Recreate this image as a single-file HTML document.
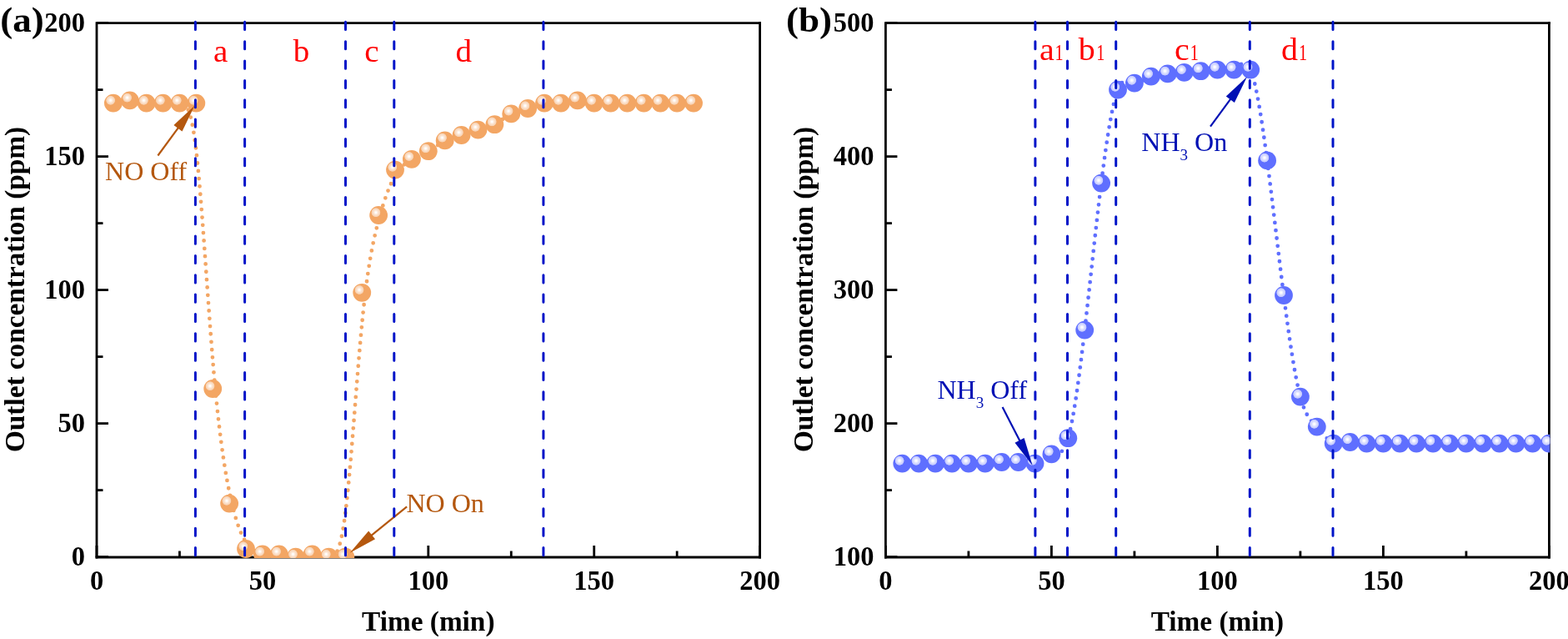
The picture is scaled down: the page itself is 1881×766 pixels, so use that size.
<!DOCTYPE html><html><head><meta charset="utf-8"><title>Outlet concentration</title><style>
html,body{margin:0;padding:0;background:#fff;}svg{display:block;}
text{font-family:"Liberation Serif","Times New Roman",serif;}
.t{font-weight:bold;font-size:32px;}
</style></head><body>
<svg width="1881" height="766" viewBox="0 0 1881 766">
<defs>
<radialGradient id="go" cx="0" cy="0" r="5.7" gradientUnits="userSpaceOnUse"><stop offset="0" stop-color="#fff"/><stop offset="0.12" stop-color="#fff"/><stop offset="0.3" stop-color="#fdf0e5"/><stop offset="0.55" stop-color="#fbe1cc"/><stop offset="0.85" stop-color="#f8d3b4"/><stop offset="0.95" stop-color="#f5be90"/><stop offset="1" stop-color="#F3A664"/></radialGradient>
<radialGradient id="gb" cx="0" cy="0" r="5.7" gradientUnits="userSpaceOnUse"><stop offset="0" stop-color="#fff"/><stop offset="0.12" stop-color="#fff"/><stop offset="0.3" stop-color="#eef0ff"/><stop offset="0.55" stop-color="#d8dcff"/><stop offset="0.85" stop-color="#c6cbff"/><stop offset="0.95" stop-color="#9ea7ff"/><stop offset="1" stop-color="#5F6FFF"/></radialGradient>
<clipPath id="ca"><rect x="114.6" y="26.2" width="798.4" height="642.8"/></clipPath>
<clipPath id="cb"><rect x="1061" y="26.2" width="798.3" height="642.8"/></clipPath>
</defs>
<rect width="1881" height="766" fill="#fff"/>
<g>
<path d="M116.00 669.50 V27.60 H913.00" fill="none" stroke="#000" stroke-width="2.8" stroke-linejoin="miter"/><path d="M911.60 26.20 V669.50" fill="none" stroke="#000" stroke-width="2.8"/><line x1="114.60" y1="668.00" x2="913.00" y2="668.00" stroke="#000" stroke-width="3"/><line x1="116.00" y1="668.00" x2="116.00" y2="654.00" stroke="#000" stroke-width="2.8"/><line x1="314.90" y1="668.00" x2="314.90" y2="654.00" stroke="#000" stroke-width="2.8"/><line x1="513.80" y1="668.00" x2="513.80" y2="654.00" stroke="#000" stroke-width="2.8"/><line x1="712.70" y1="668.00" x2="712.70" y2="654.00" stroke="#000" stroke-width="2.8"/><line x1="911.60" y1="668.00" x2="911.60" y2="654.00" stroke="#000" stroke-width="2.8"/><line x1="215.45" y1="668.00" x2="215.45" y2="660.50" stroke="#000" stroke-width="2.8"/><line x1="414.35" y1="668.00" x2="414.35" y2="660.50" stroke="#000" stroke-width="2.8"/><line x1="613.25" y1="668.00" x2="613.25" y2="660.50" stroke="#000" stroke-width="2.8"/><line x1="812.15" y1="668.00" x2="812.15" y2="660.50" stroke="#000" stroke-width="2.8"/><line x1="116.00" y1="667.60" x2="130.00" y2="667.60" stroke="#000" stroke-width="2.8"/><line x1="116.00" y1="507.60" x2="130.00" y2="507.60" stroke="#000" stroke-width="2.8"/><line x1="116.00" y1="347.60" x2="130.00" y2="347.60" stroke="#000" stroke-width="2.8"/><line x1="116.00" y1="187.60" x2="130.00" y2="187.60" stroke="#000" stroke-width="2.8"/><line x1="116.00" y1="27.60" x2="130.00" y2="27.60" stroke="#000" stroke-width="2.8"/><line x1="116.00" y1="587.60" x2="123.50" y2="587.60" stroke="#000" stroke-width="2.8"/><line x1="116.00" y1="427.60" x2="123.50" y2="427.60" stroke="#000" stroke-width="2.8"/><line x1="116.00" y1="267.60" x2="123.50" y2="267.60" stroke="#000" stroke-width="2.8"/><line x1="116.00" y1="107.60" x2="123.50" y2="107.60" stroke="#000" stroke-width="2.8"/>
<g clip-path="url(#ca)">
<g fill="none" stroke="#F3A664" stroke-width="4.8" stroke-linecap="round" stroke-dasharray="0 9.33"><path d="M135.89 123.60 C135.89 123.60 135.89 123.60 139.20 123.07" stroke-dashoffset="0.00"/><path d="M139.20 123.07 C142.52 122.53 149.15 121.47 155.78 121.47" stroke-dashoffset="3.36"/><path d="M155.78 121.47 C162.41 121.47 169.04 122.53 175.67 123.07" stroke-dashoffset="1.37"/><path d="M175.67 123.07 C182.30 123.60 188.93 123.60 195.56 123.60" stroke-dashoffset="2.67"/><path d="M195.56 123.60 C202.19 123.60 208.82 123.60 215.45 123.60" stroke-dashoffset="3.91"/><path d="M215.45 123.60 C222.08 123.60 228.71 123.60 235.34 180.67" stroke-dashoffset="4.31"/><path d="M235.34 180.67 C241.97 237.73 248.60 351.87 255.23 431.87" stroke-dashoffset="3.64"/><path d="M255.23 431.87 C261.86 511.87 268.49 557.73 275.12 589.73" stroke-dashoffset="4.16"/><path d="M275.12 589.73 C281.75 621.73 288.38 639.87 295.01 650.00" stroke-dashoffset="5.23"/><path d="M295.01 650.00 C301.64 660.13 308.27 662.27 314.90 663.33" stroke-dashoffset="3.69"/><path d="M314.90 663.33 C321.53 664.40 328.16 664.40 334.79 664.93" stroke-dashoffset="0.51"/><path d="M334.79 664.93 C341.42 665.47 348.05 666.53 354.68 666.53" stroke-dashoffset="1.81"/><path d="M354.68 666.53 C361.31 666.53 367.94 665.47 374.57 665.47" stroke-dashoffset="3.12"/><path d="M374.57 665.47 C381.20 665.47 387.83 666.53 394.46 667.07" stroke-dashoffset="4.38"/><path d="M394.46 667.07 C401.09 667.60 407.72 667.60 414.35 614.80" stroke-dashoffset="5.48"/><path d="M414.35 614.80 C420.98 562.00 427.61 456.40 434.24 388.13" stroke-dashoffset="0.66"/><path d="M434.24 388.13 C440.87 319.87 447.50 288.93 454.13 264.40" stroke-dashoffset="5.04"/><path d="M454.13 264.40 C460.76 239.87 467.39 221.73 474.02 210.53" stroke-dashoffset="9.33"/><path d="M474.02 210.53 C480.65 199.33 487.28 195.07 493.91 191.33" stroke-dashoffset="1.59"/><path d="M493.91 191.33 C500.54 187.60 507.17 184.40 513.80 180.67" stroke-dashoffset="1.63"/><path d="M513.80 180.67 C520.43 176.93 527.06 172.67 533.69 169.47" stroke-dashoffset="5.54"/><path d="M533.69 169.47 C540.32 166.27 546.95 164.13 553.58 162.00" stroke-dashoffset="0.38"/><path d="M553.58 162.00 C560.21 159.87 566.84 157.73 573.47 155.60" stroke-dashoffset="2.99"/><path d="M573.47 155.60 C580.10 153.47 586.73 151.33 593.36 148.13" stroke-dashoffset="5.22"/><path d="M593.36 148.13 C599.99 144.93 606.62 140.67 613.25 137.47" stroke-dashoffset="7.82"/><path d="M613.25 137.47 C619.88 134.27 626.51 132.13 633.14 130.00" stroke-dashoffset="2.41"/><path d="M633.14 130.00 C639.77 127.87 646.40 125.73 653.03 124.67" stroke-dashoffset="5.01"/><path d="M653.03 124.67 C659.66 123.60 666.29 123.60 672.92 123.07" stroke-dashoffset="6.97"/><path d="M672.92 123.07 C679.55 122.53 686.18 121.47 692.81 121.47" stroke-dashoffset="8.27"/><path d="M692.81 121.47 C699.44 121.47 706.07 122.53 712.70 123.07" stroke-dashoffset="0.24"/><path d="M712.70 123.07 C719.33 123.60 725.96 123.60 732.59 123.60" stroke-dashoffset="1.54"/><path d="M732.59 123.60 C739.22 123.60 745.85 123.60 752.48 123.60" stroke-dashoffset="2.79"/><path d="M752.48 123.60 C759.11 123.60 765.74 123.60 772.37 123.60" stroke-dashoffset="4.02"/><path d="M772.37 123.60 C779.00 123.60 785.63 123.60 792.26 123.60" stroke-dashoffset="5.25"/><path d="M792.26 123.60 C798.89 123.60 805.52 123.60 812.15 123.60" stroke-dashoffset="6.48"/><path d="M812.15 123.60 C818.78 123.60 825.41 123.60 828.73 123.60" stroke-dashoffset="7.71"/><path d="M828.73 123.60 C832.04 123.60 832.04 123.60 832.04 123.60" stroke-dashoffset="5.62"/></g>
<circle cx="135.89" cy="123.60" r="10.90" fill="#F3A664"/><circle cx="0" cy="0" r="5.7" fill="url(#go)" transform="translate(132.69 120.30)"/><circle cx="155.78" cy="120.40" r="10.90" fill="#F3A664"/><circle cx="0" cy="0" r="5.7" fill="url(#go)" transform="translate(152.58 117.10)"/><circle cx="175.67" cy="123.60" r="10.90" fill="#F3A664"/><circle cx="0" cy="0" r="5.7" fill="url(#go)" transform="translate(172.47 120.30)"/><circle cx="195.56" cy="123.60" r="10.90" fill="#F3A664"/><circle cx="0" cy="0" r="5.7" fill="url(#go)" transform="translate(192.36 120.30)"/><circle cx="215.45" cy="123.60" r="10.90" fill="#F3A664"/><circle cx="0" cy="0" r="5.7" fill="url(#go)" transform="translate(212.25 120.30)"/><circle cx="235.34" cy="123.60" r="10.90" fill="#F3A664"/><circle cx="0" cy="0" r="5.7" fill="url(#go)" transform="translate(232.14 120.30)"/><circle cx="255.23" cy="466.00" r="10.90" fill="#F3A664"/><circle cx="0" cy="0" r="5.7" fill="url(#go)" transform="translate(252.03 462.70)"/><circle cx="275.12" cy="603.60" r="10.90" fill="#F3A664"/><circle cx="0" cy="0" r="5.7" fill="url(#go)" transform="translate(271.92 600.30)"/><circle cx="295.01" cy="658.00" r="10.90" fill="#F3A664"/><circle cx="0" cy="0" r="5.7" fill="url(#go)" transform="translate(291.81 654.70)"/><circle cx="314.90" cy="664.40" r="10.90" fill="#F3A664"/><circle cx="0" cy="0" r="5.7" fill="url(#go)" transform="translate(311.70 661.10)"/><circle cx="334.79" cy="664.40" r="10.90" fill="#F3A664"/><circle cx="0" cy="0" r="5.7" fill="url(#go)" transform="translate(331.59 661.10)"/><circle cx="354.68" cy="667.60" r="10.90" fill="#F3A664"/><circle cx="0" cy="0" r="5.7" fill="url(#go)" transform="translate(351.48 664.30)"/><circle cx="374.57" cy="664.40" r="10.90" fill="#F3A664"/><circle cx="0" cy="0" r="5.7" fill="url(#go)" transform="translate(371.37 661.10)"/><circle cx="394.46" cy="667.60" r="10.90" fill="#F3A664"/><circle cx="0" cy="0" r="5.7" fill="url(#go)" transform="translate(391.26 664.30)"/><circle cx="414.35" cy="667.60" r="10.90" fill="#F3A664"/><circle cx="0" cy="0" r="5.7" fill="url(#go)" transform="translate(411.15 664.30)"/><circle cx="434.24" cy="350.80" r="10.90" fill="#F3A664"/><circle cx="0" cy="0" r="5.7" fill="url(#go)" transform="translate(431.04 347.50)"/><circle cx="454.13" cy="258.00" r="10.90" fill="#F3A664"/><circle cx="0" cy="0" r="5.7" fill="url(#go)" transform="translate(450.93 254.70)"/><circle cx="474.02" cy="203.60" r="10.90" fill="#F3A664"/><circle cx="0" cy="0" r="5.7" fill="url(#go)" transform="translate(470.82 200.30)"/><circle cx="493.91" cy="190.80" r="10.90" fill="#F3A664"/><circle cx="0" cy="0" r="5.7" fill="url(#go)" transform="translate(490.71 187.50)"/><circle cx="513.80" cy="181.20" r="10.90" fill="#F3A664"/><circle cx="0" cy="0" r="5.7" fill="url(#go)" transform="translate(510.60 177.90)"/><circle cx="533.69" cy="168.40" r="10.90" fill="#F3A664"/><circle cx="0" cy="0" r="5.7" fill="url(#go)" transform="translate(530.49 165.10)"/><circle cx="553.58" cy="162.00" r="10.90" fill="#F3A664"/><circle cx="0" cy="0" r="5.7" fill="url(#go)" transform="translate(550.38 158.70)"/><circle cx="573.47" cy="155.60" r="10.90" fill="#F3A664"/><circle cx="0" cy="0" r="5.7" fill="url(#go)" transform="translate(570.27 152.30)"/><circle cx="593.36" cy="149.20" r="10.90" fill="#F3A664"/><circle cx="0" cy="0" r="5.7" fill="url(#go)" transform="translate(590.16 145.90)"/><circle cx="613.25" cy="136.40" r="10.90" fill="#F3A664"/><circle cx="0" cy="0" r="5.7" fill="url(#go)" transform="translate(610.05 133.10)"/><circle cx="633.14" cy="130.00" r="10.90" fill="#F3A664"/><circle cx="0" cy="0" r="5.7" fill="url(#go)" transform="translate(629.94 126.70)"/><circle cx="653.03" cy="123.60" r="10.90" fill="#F3A664"/><circle cx="0" cy="0" r="5.7" fill="url(#go)" transform="translate(649.83 120.30)"/><circle cx="672.92" cy="123.60" r="10.90" fill="#F3A664"/><circle cx="0" cy="0" r="5.7" fill="url(#go)" transform="translate(669.72 120.30)"/><circle cx="692.81" cy="120.40" r="10.90" fill="#F3A664"/><circle cx="0" cy="0" r="5.7" fill="url(#go)" transform="translate(689.61 117.10)"/><circle cx="712.70" cy="123.60" r="10.90" fill="#F3A664"/><circle cx="0" cy="0" r="5.7" fill="url(#go)" transform="translate(709.50 120.30)"/><circle cx="732.59" cy="123.60" r="10.90" fill="#F3A664"/><circle cx="0" cy="0" r="5.7" fill="url(#go)" transform="translate(729.39 120.30)"/><circle cx="752.48" cy="123.60" r="10.90" fill="#F3A664"/><circle cx="0" cy="0" r="5.7" fill="url(#go)" transform="translate(749.28 120.30)"/><circle cx="772.37" cy="123.60" r="10.90" fill="#F3A664"/><circle cx="0" cy="0" r="5.7" fill="url(#go)" transform="translate(769.17 120.30)"/><circle cx="792.26" cy="123.60" r="10.90" fill="#F3A664"/><circle cx="0" cy="0" r="5.7" fill="url(#go)" transform="translate(789.06 120.30)"/><circle cx="812.15" cy="123.60" r="10.90" fill="#F3A664"/><circle cx="0" cy="0" r="5.7" fill="url(#go)" transform="translate(808.95 120.30)"/><circle cx="832.04" cy="123.60" r="10.90" fill="#F3A664"/><circle cx="0" cy="0" r="5.7" fill="url(#go)" transform="translate(828.84 120.30)"/>
</g>
<line x1="488.10" y1="607.30" x2="444.55" y2="642.64" stroke="#B4570E" stroke-width="2.2"/><polygon points="419.70,662.80 442.16,636.52 450.04,646.23" fill="#B4570E"/>
<line x1="234.40" y1="26.36" x2="234.40" y2="667.6" stroke="#0014C8" stroke-width="3" stroke-linecap="round" stroke-dasharray="9.1 14.24"/><line x1="293.60" y1="26.36" x2="293.60" y2="667.6" stroke="#0014C8" stroke-width="3" stroke-linecap="round" stroke-dasharray="9.1 14.24"/><line x1="414.50" y1="26.36" x2="414.50" y2="667.6" stroke="#0014C8" stroke-width="3" stroke-linecap="round" stroke-dasharray="9.1 14.24"/><line x1="472.80" y1="26.36" x2="472.80" y2="667.6" stroke="#0014C8" stroke-width="3" stroke-linecap="round" stroke-dasharray="9.1 14.24"/><line x1="651.90" y1="26.36" x2="651.90" y2="667.6" stroke="#0014C8" stroke-width="3" stroke-linecap="round" stroke-dasharray="9.1 14.24"/>
<line x1="189.40" y1="186.50" x2="214.64" y2="152.18" stroke="#B4570E" stroke-width="2.2"/><polygon points="233.60,126.40 218.49,157.49 208.42,150.09" fill="#B4570E"/>
<text class="t" style="font-size:32.5px" text-anchor="middle" transform="translate(116.00 707.3) scale(1 1.055)">0</text><text class="t" style="font-size:32.5px" text-anchor="middle" transform="translate(314.90 707.3) scale(1 1.055)">50</text><text class="t" style="font-size:32.5px" text-anchor="middle" transform="translate(513.80 707.3) scale(1 1.055)">100</text><text class="t" style="font-size:32.5px" text-anchor="middle" transform="translate(712.70 707.3) scale(1 1.055)">150</text><text class="t" style="font-size:32.5px" text-anchor="middle" transform="translate(911.60 707.3) scale(1 1.055)">200</text><text class="t" style="font-size:32.5px" text-anchor="end" transform="translate(102.10 677.60) scale(1 1.055)">0</text><text class="t" style="font-size:32.5px" text-anchor="end" transform="translate(102.10 517.60) scale(1 1.055)">50</text><text class="t" style="font-size:32.5px" text-anchor="end" transform="translate(102.10 357.60) scale(1 1.055)">100</text><text class="t" style="font-size:32.5px" text-anchor="end" transform="translate(102.10 197.60) scale(1 1.055)">150</text><text class="t" style="font-size:32.5px" text-anchor="end" transform="translate(102.10 37.60) scale(1 1.055)">200</text><text class="t" style="font-size:33.3px" text-anchor="middle" transform="translate(513.80 756) scale(1 1.030)">Time (min)</text><text class="t" style="font-size:33.3px" text-anchor="middle" transform="translate(29.00 347) rotate(-90) scale(1 1.030)">Outlet concentration (ppm)</text>
<text style="font-weight:bold;font-size:44px" transform="translate(0.2 38.3) scale(1.025 0.97)">(a)</text>
<g fill="#FF0000" style="font-size:39.0px">
<text text-anchor="middle" transform="translate(264.7 74.3) scale(1 0.955)">a</text>
<text text-anchor="middle" transform="translate(361.5 74.3) scale(1 0.955)">b</text>
<text text-anchor="middle" transform="translate(445.8 74.3) scale(1 0.955)">c</text>
<text text-anchor="middle" transform="translate(556.2 74.3) scale(1 0.955)">d</text>
</g>
<text x="126.1" y="216.4" fill="#B4570E" style="font-size:32px">NO Off</text>
<text x="487.5" y="614.1" fill="#B4570E" style="font-size:32px">NO On</text>
</g>
<g>
<path d="M1062.40 669.50 V27.60 H1859.80" fill="none" stroke="#000" stroke-width="2.8" stroke-linejoin="miter"/><path d="M1858.40 26.20 V669.50" fill="none" stroke="#000" stroke-width="2.8"/><line x1="1061.00" y1="668.00" x2="1859.80" y2="668.00" stroke="#000" stroke-width="3"/><line x1="1062.40" y1="668.00" x2="1062.40" y2="654.00" stroke="#000" stroke-width="2.8"/><line x1="1261.40" y1="668.00" x2="1261.40" y2="654.00" stroke="#000" stroke-width="2.8"/><line x1="1460.40" y1="668.00" x2="1460.40" y2="654.00" stroke="#000" stroke-width="2.8"/><line x1="1659.40" y1="668.00" x2="1659.40" y2="654.00" stroke="#000" stroke-width="2.8"/><line x1="1858.40" y1="668.00" x2="1858.40" y2="654.00" stroke="#000" stroke-width="2.8"/><line x1="1161.90" y1="668.00" x2="1161.90" y2="660.50" stroke="#000" stroke-width="2.8"/><line x1="1360.90" y1="668.00" x2="1360.90" y2="660.50" stroke="#000" stroke-width="2.8"/><line x1="1559.90" y1="668.00" x2="1559.90" y2="660.50" stroke="#000" stroke-width="2.8"/><line x1="1758.90" y1="668.00" x2="1758.90" y2="660.50" stroke="#000" stroke-width="2.8"/><line x1="1062.40" y1="667.60" x2="1076.40" y2="667.60" stroke="#000" stroke-width="2.8"/><line x1="1062.40" y1="507.60" x2="1076.40" y2="507.60" stroke="#000" stroke-width="2.8"/><line x1="1062.40" y1="347.60" x2="1076.40" y2="347.60" stroke="#000" stroke-width="2.8"/><line x1="1062.40" y1="187.60" x2="1076.40" y2="187.60" stroke="#000" stroke-width="2.8"/><line x1="1062.40" y1="27.60" x2="1076.40" y2="27.60" stroke="#000" stroke-width="2.8"/><line x1="1062.40" y1="587.60" x2="1069.90" y2="587.60" stroke="#000" stroke-width="2.8"/><line x1="1062.40" y1="427.60" x2="1069.90" y2="427.60" stroke="#000" stroke-width="2.8"/><line x1="1062.40" y1="267.60" x2="1069.90" y2="267.60" stroke="#000" stroke-width="2.8"/><line x1="1062.40" y1="107.60" x2="1069.90" y2="107.60" stroke="#000" stroke-width="2.8"/>
<g clip-path="url(#cb)">
<g fill="none" stroke="#5F6FFF" stroke-width="4.8" stroke-linecap="round" stroke-dasharray="0 9.33"><path d="M1082.30 555.60 C1088.93 555.60 1095.57 555.60 1102.20 555.60" stroke-dashoffset="0.00"/><path d="M1102.20 555.60 C1108.83 555.60 1115.47 555.59 1122.10 555.60" stroke-dashoffset="1.24"/><path d="M1122.10 555.60 C1128.73 555.61 1135.37 555.62 1142.00 555.60" stroke-dashoffset="2.48"/><path d="M1142.00 555.60 C1148.63 555.58 1155.27 555.53 1161.90 555.60" stroke-dashoffset="3.72"/><path d="M1161.90 555.60 C1168.53 555.67 1175.17 555.86 1181.80 555.60" stroke-dashoffset="4.96"/><path d="M1181.80 555.60 C1188.43 555.34 1195.07 554.62 1201.70 554.00" stroke-dashoffset="6.20"/><path d="M1201.70 554.00 C1208.33 553.38 1214.97 552.86 1221.60 554.00" stroke-dashoffset="7.51"/><path d="M1221.60 554.00 C1228.23 555.14 1234.87 557.94 1241.50 555.60" stroke-dashoffset="8.81"/><path d="M1241.50 555.60 C1248.13 553.26 1254.77 545.79 1261.40 544.40" stroke-dashoffset="1.07"/><path d="M1261.40 544.40 C1268.03 543.01 1274.67 547.70 1281.30 525.20" stroke-dashoffset="5.36"/><path d="M1281.30 525.20 C1287.93 502.70 1294.57 453.02 1301.20 395.60" stroke-dashoffset="7.15"/><path d="M1301.20 395.60 C1307.83 338.18 1314.47 273.02 1321.10 219.60" stroke-dashoffset="7.47"/><path d="M1321.10 219.60 C1327.73 166.18 1334.37 124.48 1341.00 107.60" stroke-dashoffset="6.80"/><path d="M1341.00 107.60 C1347.63 90.72 1354.27 98.64 1360.90 99.60" stroke-dashoffset="8.77"/><path d="M1360.90 99.60 C1367.53 100.56 1374.17 94.56 1380.80 91.60" stroke-dashoffset="6.63"/><path d="M1380.80 91.60 C1387.43 88.64 1394.07 88.74 1400.70 88.40" stroke-dashoffset="0.44"/><path d="M1400.70 88.40 C1407.33 88.06 1413.97 87.29 1420.60 86.80" stroke-dashoffset="2.07"/><path d="M1420.60 86.80 C1427.23 86.31 1433.87 86.09 1440.50 85.20" stroke-dashoffset="3.38"/><path d="M1440.50 85.20 C1447.13 84.31 1453.77 82.75 1460.40 83.60" stroke-dashoffset="4.69"/><path d="M1460.40 83.60 C1467.03 84.45 1473.67 87.70 1480.30 83.60" stroke-dashoffset="6.06"/><path d="M1480.30 83.60 C1486.93 79.50 1493.57 68.06 1500.20 83.60" stroke-dashoffset="7.86"/><path d="M1500.20 83.60 C1506.83 99.14 1513.47 141.68 1520.10 192.40" stroke-dashoffset="0.95"/><path d="M1520.10 192.40 C1526.73 243.12 1533.37 302.04 1540.00 354.00" stroke-dashoffset="8.86"/><path d="M1540.00 354.00 C1546.63 405.96 1553.27 450.96 1559.90 475.60" stroke-dashoffset="3.24"/><path d="M1559.90 475.60 C1566.53 500.24 1573.17 504.53 1579.80 511.60" stroke-dashoffset="5.45"/><path d="M1579.80 511.60 C1586.43 518.67 1593.07 528.53 1599.70 531.60" stroke-dashoffset="0.60"/><path d="M1599.70 531.60 C1606.33 534.67 1612.97 530.94 1619.60 530.00" stroke-dashoffset="0.99"/><path d="M1619.60 530.00 C1626.23 529.06 1632.87 530.92 1639.50 531.60" stroke-dashoffset="2.71"/><path d="M1639.50 531.60 C1646.13 532.28 1652.77 531.78 1659.40 531.60" stroke-dashoffset="4.08"/><path d="M1659.40 531.60 C1666.03 531.42 1672.67 531.55 1679.30 531.60" stroke-dashoffset="5.34"/><path d="M1679.30 531.60 C1685.93 531.65 1692.57 531.61 1699.20 531.60" stroke-dashoffset="6.58"/><path d="M1699.20 531.60 C1705.83 531.59 1712.47 531.60 1719.10 531.60" stroke-dashoffset="7.82"/><path d="M1719.10 531.60 C1725.73 531.60 1732.37 531.60 1739.00 531.60" stroke-dashoffset="9.06"/><path d="M1739.00 531.60 C1745.63 531.60 1752.27 531.60 1758.90 531.60" stroke-dashoffset="0.97"/><path d="M1758.90 531.60 C1765.53 531.60 1772.17 531.60 1778.80 531.60" stroke-dashoffset="2.21"/><path d="M1778.80 531.60 C1785.43 531.60 1792.07 531.60 1798.70 531.60" stroke-dashoffset="3.45"/><path d="M1798.70 531.60 C1805.33 531.60 1811.97 531.60 1818.60 531.60" stroke-dashoffset="4.69"/><path d="M1818.60 531.60 C1825.23 531.60 1831.87 531.60 1838.50 531.60" stroke-dashoffset="5.93"/><path d="M1838.50 531.60 C1845.13 531.60 1851.77 531.60 1858.40 531.60" stroke-dashoffset="7.17"/></g>
<circle cx="1082.30" cy="555.60" r="10.90" fill="#5F6FFF"/><circle cx="0" cy="0" r="5.7" fill="url(#gb)" transform="translate(1079.10 552.30)"/><circle cx="1102.20" cy="555.60" r="10.90" fill="#5F6FFF"/><circle cx="0" cy="0" r="5.7" fill="url(#gb)" transform="translate(1099.00 552.30)"/><circle cx="1122.10" cy="555.60" r="10.90" fill="#5F6FFF"/><circle cx="0" cy="0" r="5.7" fill="url(#gb)" transform="translate(1118.90 552.30)"/><circle cx="1142.00" cy="555.60" r="10.90" fill="#5F6FFF"/><circle cx="0" cy="0" r="5.7" fill="url(#gb)" transform="translate(1138.80 552.30)"/><circle cx="1161.90" cy="555.60" r="10.90" fill="#5F6FFF"/><circle cx="0" cy="0" r="5.7" fill="url(#gb)" transform="translate(1158.70 552.30)"/><circle cx="1181.80" cy="555.60" r="10.90" fill="#5F6FFF"/><circle cx="0" cy="0" r="5.7" fill="url(#gb)" transform="translate(1178.60 552.30)"/><circle cx="1201.70" cy="554.00" r="10.90" fill="#5F6FFF"/><circle cx="0" cy="0" r="5.7" fill="url(#gb)" transform="translate(1198.50 550.70)"/><circle cx="1221.60" cy="554.00" r="10.90" fill="#5F6FFF"/><circle cx="0" cy="0" r="5.7" fill="url(#gb)" transform="translate(1218.40 550.70)"/><circle cx="1241.50" cy="555.60" r="10.90" fill="#5F6FFF"/><circle cx="0" cy="0" r="5.7" fill="url(#gb)" transform="translate(1238.30 552.30)"/><circle cx="1261.40" cy="544.40" r="10.90" fill="#5F6FFF"/><circle cx="0" cy="0" r="5.7" fill="url(#gb)" transform="translate(1258.20 541.10)"/><circle cx="1281.30" cy="525.20" r="10.90" fill="#5F6FFF"/><circle cx="0" cy="0" r="5.7" fill="url(#gb)" transform="translate(1278.10 521.90)"/><circle cx="1301.20" cy="395.60" r="10.90" fill="#5F6FFF"/><circle cx="0" cy="0" r="5.7" fill="url(#gb)" transform="translate(1298.00 392.30)"/><circle cx="1321.10" cy="219.60" r="10.90" fill="#5F6FFF"/><circle cx="0" cy="0" r="5.7" fill="url(#gb)" transform="translate(1317.90 216.30)"/><circle cx="1341.00" cy="107.60" r="10.90" fill="#5F6FFF"/><circle cx="0" cy="0" r="5.7" fill="url(#gb)" transform="translate(1337.80 104.30)"/><circle cx="1360.90" cy="99.60" r="10.90" fill="#5F6FFF"/><circle cx="0" cy="0" r="5.7" fill="url(#gb)" transform="translate(1357.70 96.30)"/><circle cx="1380.80" cy="91.60" r="10.90" fill="#5F6FFF"/><circle cx="0" cy="0" r="5.7" fill="url(#gb)" transform="translate(1377.60 88.30)"/><circle cx="1400.70" cy="88.40" r="10.90" fill="#5F6FFF"/><circle cx="0" cy="0" r="5.7" fill="url(#gb)" transform="translate(1397.50 85.10)"/><circle cx="1420.60" cy="86.80" r="10.90" fill="#5F6FFF"/><circle cx="0" cy="0" r="5.7" fill="url(#gb)" transform="translate(1417.40 83.50)"/><circle cx="1440.50" cy="85.20" r="10.90" fill="#5F6FFF"/><circle cx="0" cy="0" r="5.7" fill="url(#gb)" transform="translate(1437.30 81.90)"/><circle cx="1460.40" cy="83.60" r="10.90" fill="#5F6FFF"/><circle cx="0" cy="0" r="5.7" fill="url(#gb)" transform="translate(1457.20 80.30)"/><circle cx="1480.30" cy="83.60" r="10.90" fill="#5F6FFF"/><circle cx="0" cy="0" r="5.7" fill="url(#gb)" transform="translate(1477.10 80.30)"/><circle cx="1500.20" cy="83.60" r="10.90" fill="#5F6FFF"/><circle cx="0" cy="0" r="5.7" fill="url(#gb)" transform="translate(1497.00 80.30)"/><circle cx="1520.10" cy="192.40" r="10.90" fill="#5F6FFF"/><circle cx="0" cy="0" r="5.7" fill="url(#gb)" transform="translate(1516.90 189.10)"/><circle cx="1540.00" cy="354.00" r="10.90" fill="#5F6FFF"/><circle cx="0" cy="0" r="5.7" fill="url(#gb)" transform="translate(1536.80 350.70)"/><circle cx="1559.90" cy="475.60" r="10.90" fill="#5F6FFF"/><circle cx="0" cy="0" r="5.7" fill="url(#gb)" transform="translate(1556.70 472.30)"/><circle cx="1579.80" cy="511.60" r="10.90" fill="#5F6FFF"/><circle cx="0" cy="0" r="5.7" fill="url(#gb)" transform="translate(1576.60 508.30)"/><circle cx="1599.70" cy="531.60" r="10.90" fill="#5F6FFF"/><circle cx="0" cy="0" r="5.7" fill="url(#gb)" transform="translate(1596.50 528.30)"/><circle cx="1619.60" cy="530.00" r="10.90" fill="#5F6FFF"/><circle cx="0" cy="0" r="5.7" fill="url(#gb)" transform="translate(1616.40 526.70)"/><circle cx="1639.50" cy="531.60" r="10.90" fill="#5F6FFF"/><circle cx="0" cy="0" r="5.7" fill="url(#gb)" transform="translate(1636.30 528.30)"/><circle cx="1659.40" cy="531.60" r="10.90" fill="#5F6FFF"/><circle cx="0" cy="0" r="5.7" fill="url(#gb)" transform="translate(1656.20 528.30)"/><circle cx="1679.30" cy="531.60" r="10.90" fill="#5F6FFF"/><circle cx="0" cy="0" r="5.7" fill="url(#gb)" transform="translate(1676.10 528.30)"/><circle cx="1699.20" cy="531.60" r="10.90" fill="#5F6FFF"/><circle cx="0" cy="0" r="5.7" fill="url(#gb)" transform="translate(1696.00 528.30)"/><circle cx="1719.10" cy="531.60" r="10.90" fill="#5F6FFF"/><circle cx="0" cy="0" r="5.7" fill="url(#gb)" transform="translate(1715.90 528.30)"/><circle cx="1739.00" cy="531.60" r="10.90" fill="#5F6FFF"/><circle cx="0" cy="0" r="5.7" fill="url(#gb)" transform="translate(1735.80 528.30)"/><circle cx="1758.90" cy="531.60" r="10.90" fill="#5F6FFF"/><circle cx="0" cy="0" r="5.7" fill="url(#gb)" transform="translate(1755.70 528.30)"/><circle cx="1778.80" cy="531.60" r="10.90" fill="#5F6FFF"/><circle cx="0" cy="0" r="5.7" fill="url(#gb)" transform="translate(1775.60 528.30)"/><circle cx="1798.70" cy="531.60" r="10.90" fill="#5F6FFF"/><circle cx="0" cy="0" r="5.7" fill="url(#gb)" transform="translate(1795.50 528.30)"/><circle cx="1818.60" cy="531.60" r="10.90" fill="#5F6FFF"/><circle cx="0" cy="0" r="5.7" fill="url(#gb)" transform="translate(1815.40 528.30)"/><circle cx="1838.50" cy="531.60" r="10.90" fill="#5F6FFF"/><circle cx="0" cy="0" r="5.7" fill="url(#gb)" transform="translate(1835.30 528.30)"/><circle cx="1858.40" cy="531.60" r="10.90" fill="#5F6FFF"/><circle cx="0" cy="0" r="5.7" fill="url(#gb)" transform="translate(1855.20 528.30)"/>
</g>
<line x1="1202.60" y1="488.10" x2="1223.95" y2="529.55" stroke="#0010B4" stroke-width="2.2"/><polygon points="1238.60,558.00 1217.48,530.63 1228.59,524.91" fill="#0010B4"/>
<line x1="1452.00" y1="151.60" x2="1477.01" y2="117.66" stroke="#0010B4" stroke-width="2.2"/><polygon points="1496.00,91.90 1480.86,122.98 1470.80,115.56" fill="#0010B4"/>
<line x1="1241.90" y1="26.36" x2="1241.90" y2="667.6" stroke="#0014C8" stroke-width="3" stroke-linecap="round" stroke-dasharray="9.1 14.24"/><line x1="1280.50" y1="26.36" x2="1280.50" y2="667.6" stroke="#0014C8" stroke-width="3" stroke-linecap="round" stroke-dasharray="9.1 14.24"/><line x1="1338.70" y1="26.36" x2="1338.70" y2="667.6" stroke="#0014C8" stroke-width="3" stroke-linecap="round" stroke-dasharray="9.1 14.24"/><line x1="1499.30" y1="26.36" x2="1499.30" y2="667.6" stroke="#0014C8" stroke-width="3" stroke-linecap="round" stroke-dasharray="9.1 14.24"/><line x1="1599.00" y1="26.36" x2="1599.00" y2="667.6" stroke="#0014C8" stroke-width="3" stroke-linecap="round" stroke-dasharray="9.1 14.24"/>
<text class="t" style="font-size:32.5px" text-anchor="middle" transform="translate(1062.40 707.3) scale(1 1.055)">0</text><text class="t" style="font-size:32.5px" text-anchor="middle" transform="translate(1261.40 707.3) scale(1 1.055)">50</text><text class="t" style="font-size:32.5px" text-anchor="middle" transform="translate(1460.40 707.3) scale(1 1.055)">100</text><text class="t" style="font-size:32.5px" text-anchor="middle" transform="translate(1659.40 707.3) scale(1 1.055)">150</text><text class="t" style="font-size:32.5px" text-anchor="middle" transform="translate(1858.40 707.3) scale(1 1.055)">200</text><text class="t" style="font-size:32.5px" text-anchor="end" transform="translate(1048.50 677.60) scale(1 1.055)">100</text><text class="t" style="font-size:32.5px" text-anchor="end" transform="translate(1048.50 517.60) scale(1 1.055)">200</text><text class="t" style="font-size:32.5px" text-anchor="end" transform="translate(1048.50 357.60) scale(1 1.055)">300</text><text class="t" style="font-size:32.5px" text-anchor="end" transform="translate(1048.50 197.60) scale(1 1.055)">400</text><text class="t" style="font-size:32.5px" text-anchor="end" transform="translate(1048.50 37.60) scale(1 1.055)">500</text><text class="t" style="font-size:33.3px" text-anchor="middle" transform="translate(1460.40 756) scale(1 1.030)">Time (min)</text><text class="t" style="font-size:33.3px" text-anchor="middle" transform="translate(975.40 347) rotate(-90) scale(1 1.030)">Outlet concentration (ppm)</text>
<text style="font-weight:bold;font-size:44px" transform="translate(943 38.3) scale(1.025 0.97)">(b)</text>
<g fill="#FF0000" style="font-size:40px">
<text transform="translate(1247.0 72.3) scale(1 0.955)">a</text>
<text text-anchor="middle" style="font-size:28px" transform="translate(1270.50 72.3) scale(0.72 1)">1</text>
<text transform="translate(1293.8 72.3) scale(1 0.955)">b</text>
<text text-anchor="middle" style="font-size:28px" transform="translate(1320.40 72.3) scale(0.72 1)">1</text>
<text transform="translate(1409.0 72.3) scale(1 0.955)">c</text>
<text text-anchor="middle" style="font-size:28px" transform="translate(1432.75 72.3) scale(0.72 1)">1</text>
<text transform="translate(1537.0 72.3) scale(1 0.955)">d</text>
<text text-anchor="middle" style="font-size:28px" transform="translate(1563.15 72.3) scale(0.72 1)">1</text>
</g>
<text x="1124.5" y="478.2" fill="#0010B4" style="font-size:32px">NH<tspan dy="10.8" style="font-size:19px">3</tspan><tspan dy="-10.8"> Off</tspan></text>
<text x="1369.3" y="180.9" fill="#0010B4" style="font-size:32px">NH<tspan dy="10.8" style="font-size:19px">3</tspan><tspan dy="-10.8"> On</tspan></text>
</g>
</svg></body></html>
